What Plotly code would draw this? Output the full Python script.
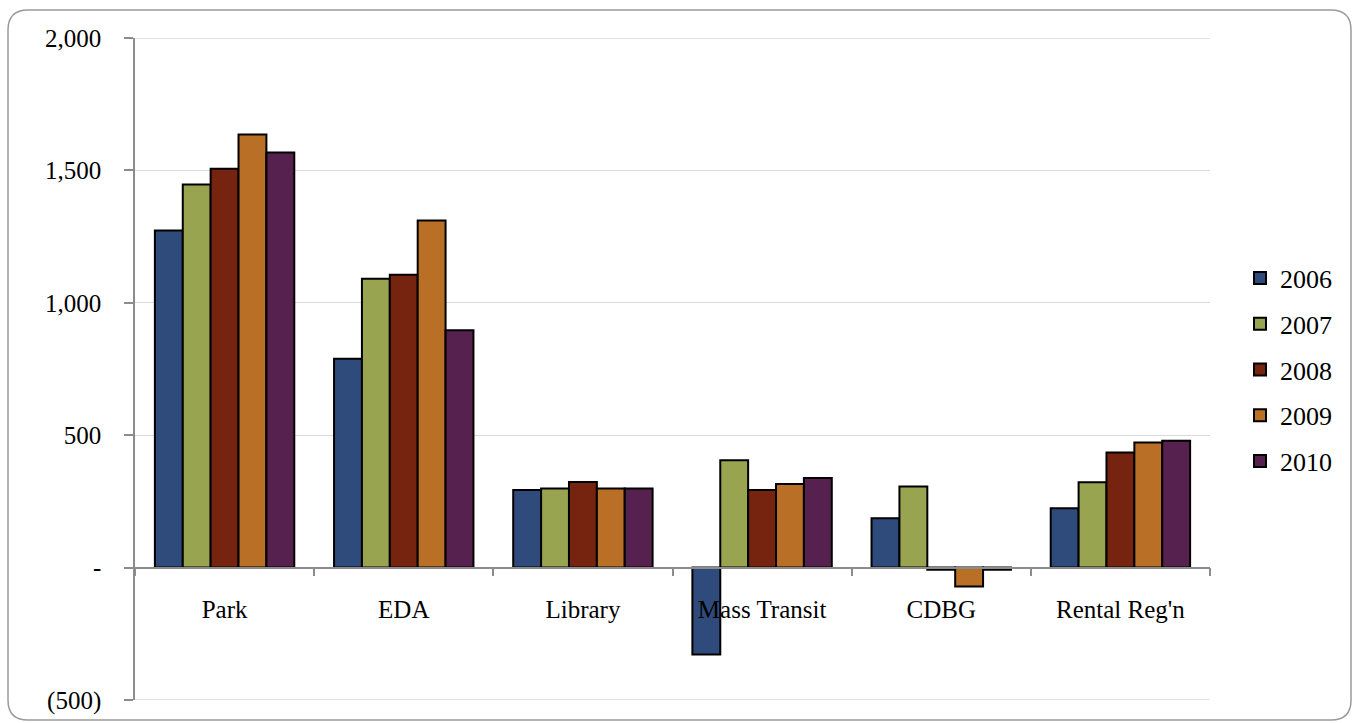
import plotly.graph_objects as go

# Categories and yearly values
categories = ["Park", "EDA", "Library", "Mass Transit", "CDBG", "Rental Reg'n"]
years = ["2006", "2007", "2008", "2009", "2010"]
values_2006 = [1273, 789, 293, -328, 186, 224]
values_2007 = [1447, 1091, 299, 405, 306, 322]
values_2008 = [1506, 1106, 323, 293, -8, 435]
values_2009 = [1636, 1311, 299, 316, -71, 472]
values_2010 = [1568, 896, 299, 338, -8, 479]
series = [values_2006, values_2007, values_2008, values_2009, values_2010]
colors = ["#2F4B7B", "#98A44F", "#76230F", "#B97026", "#56214E"]

y_tickvals = [-500, 0, 500, 1000, 1500, 2000]
y_ticktext = ["(500)", "-", "500", "1,000", "1,500", "2,000"]

FONT = "Liberation Serif"
GREY = "#8C8C8C"
GRID = "#D9D9D9"

fig = go.Figure()
for yr, vals, col in zip(years, series, colors):
    fig.add_trace(go.Bar(
        x=categories, y=vals, name=yr, legendgroup=yr,
        marker=dict(color=col, line=dict(color="black", width=2)),
    ))

# plot area in pixels: left 135, right 1210, top 38, bottom 700
W, H = 1356, 723
L, R, T, B = 135, 1210, 38, 700
pw, ph = R - L, B - T


def px(x):
    return (x - L) / pw


def py(y):
    return (B - y) / ph


# rounded frame around the chart
x0, x1, y0, y1 = px(8), px(1351), py(10), py(720)
rx, ry = 20 / pw, 20 / ph
frame = (f"M {x0 + rx},{y1} Q {x0},{y1} {x0},{y1 + ry} "
         f"L {x0},{y0 - ry} Q {x0},{y0} {x0 + rx},{y0} "
         f"L {x1 - rx},{y0} Q {x1},{y0} {x1},{y0 - ry} "
         f"L {x1},{y1 + ry} Q {x1},{y1} {x1 - rx},{y1} Z")
fig.add_shape(type="path", path=frame, xref="paper", yref="paper",
              line=dict(color="#9A9A9A", width=1.5), layer="below")

# gridlines on the range edges
for v in (-500, 2000):
    fig.add_shape(type="line", xref="paper", yref="y", x0=0, x1=1, y0=v, y1=v,
                  line=dict(color=GRID, width=1.5), layer="below")

zero_pos = (0 - (-500)) / 2500

fig.update_layout(
    width=W, height=H,
    margin=dict(l=L, r=W - R, t=T, b=H - B, autoexpand=False),
    paper_bgcolor="white", plot_bgcolor="white",
    barmode="group", bargap=0.222, bargroupgap=0,
    font=dict(family=FONT, size=25, color="black"),
    legend=dict(x=px(1240), y=py(370), xanchor="left", yanchor="middle",
                font=dict(family=FONT, size=26, color="black"),
                tracegroupgap=9, itemwidth=30, bgcolor="rgba(0,0,0,0)"),
    xaxis=dict(
        type="category", anchor="free", position=zero_pos, automargin=False,
        showline=True, linecolor=GREY, linewidth=1.5,
        ticks="outside", tickson="boundaries", ticklen=8, tickcolor=GREY, tickwidth=1.5,
        showgrid=False, ticklabelstandoff=20,
        tickfont=dict(family=FONT, size=25, color="black"),
    ),
    yaxis=dict(
        range=[-500, 2000], tickvals=y_tickvals, ticktext=y_ticktext, automargin=False,
        showline=True, linecolor=GREY, linewidth=1.5,
        ticks="outside", ticklen=9, tickcolor=GREY, tickwidth=1.5,
        showgrid=True, gridcolor=GRID, gridwidth=1.3, zeroline=False,
        ticklabelstandoff=18,
        tickfont=dict(family=FONT, size=25, color="black"),
    ),
)

fig.write_html("out.html")
